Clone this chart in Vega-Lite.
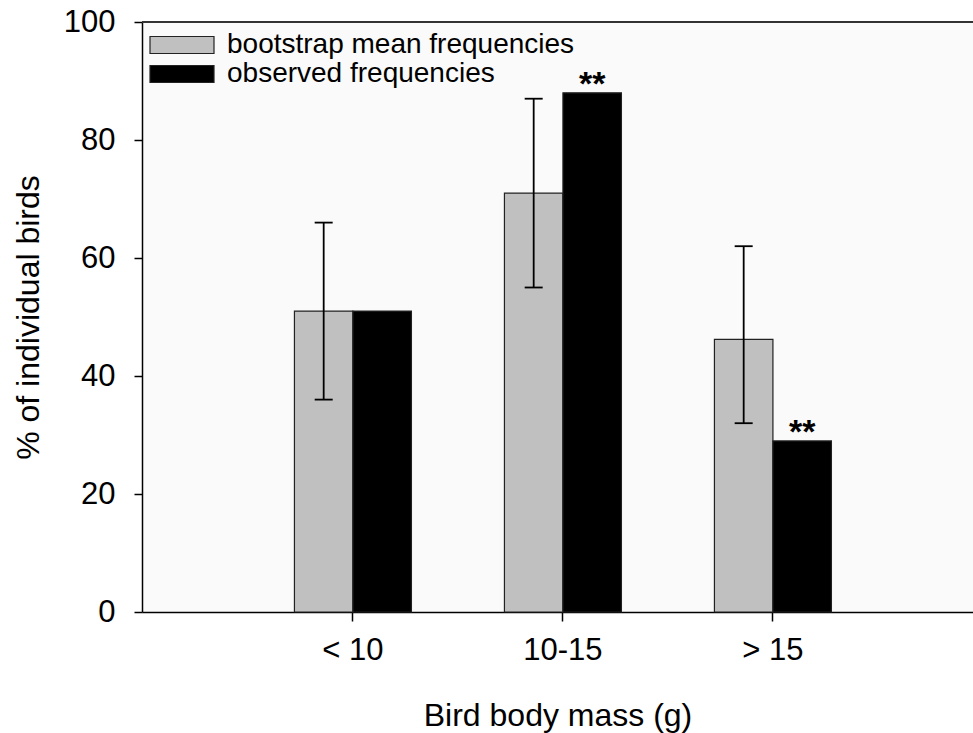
{
  "$schema": "https://vega.github.io/schema/vega-lite/v6.json",
  "width": 831,
  "height": 590,
  "autosize": {"type": "none"},
  "padding": {"left": 142, "top": 22, "right": 0, "bottom": 121},
  "background": "white",
  "config": {
    "view": {"fill": "#fafafa", "stroke": null},
    "font": "Liberation Sans",
    "axis": {"grid": false, "domainColor": "black", "domainWidth": 1.5, "tickColor": "black", "tickWidth": 1.5, "labelColor": "black", "titleColor": "black", "labelFont": "Liberation Sans", "titleFont": "Liberation Sans", "titleFontWeight": "normal"},
    "legend": {"padding": 0}
  },
  "data": {
    "values": [
      {"mass": "< 10", "series": "bootstrap mean frequencies", "value": 51, "lo": 36, "hi": 66, "sig": ""},
      {"mass": "< 10", "series": "observed frequencies", "value": 51, "sig": ""},
      {"mass": "10-15", "series": "bootstrap mean frequencies", "value": 71, "lo": 55, "hi": 87, "sig": ""},
      {"mass": "10-15", "series": "observed frequencies", "value": 88, "sig": "**"},
      {"mass": "> 15", "series": "bootstrap mean frequencies", "value": 46.2, "lo": 32, "hi": 62, "sig": ""},
      {"mass": "> 15", "series": "observed frequencies", "value": 29, "sig": "**"}
    ]
  },
  "layer": [
    {
      "mark": {"type": "bar", "stroke": "#222", "strokeWidth": 1.2},
      "encoding": {
        "x": {"field": "mass", "type": "nominal", "sort": ["< 10", "10-15", "> 15"],
              "scale": {"paddingInner": 0, "paddingOuter": 0.4786, "align": 0.527},
              "axis": {"title": "Bird body mass (g)", "labelAngle": 0, "labelFontSize": 31, "labelPadding": 14, "tickSize": 9, "titleFontSize": 32, "titleY": 103, "titleBaseline": "middle"}},
        "xOffset": {"field": "series", "type": "nominal", "sort": ["bootstrap mean frequencies", "observed frequencies"], "scale": {"paddingInner": 0, "paddingOuter": 0.795}},
        "y": {"field": "value", "type": "quantitative", "scale": {"domain": [0, 100], "nice": false},
              "axis": {"title": "% of individual birds", "values": [0, 20, 40, 60, 80, 100], "tickSize": 8, "labelPadding": 19, "labelFontSize": 31, "titleFontSize": 32, "titleAngle": -90, "titleX": -114, "titleY": 295, "titleBaseline": "middle"}},
        "fill": {"field": "series", "type": "nominal", "sort": ["bootstrap mean frequencies", "observed frequencies"],
                 "scale": {"domain": ["bootstrap mean frequencies", "observed frequencies"], "range": ["#c0c0c0", "#000000"]},
                 "legend": {"title": null, "orient": "none", "legendX": 26, "legendY": 9, "symbolType": "M-6.4,-1.7H6.4V1.7H-6.4Z", "symbolSize": 100, "symbolStrokeColor": "#222", "symbolStrokeWidth": 1.2, "symbolOpacity": 1, "symbolFillOpacity": 1, "labelFontSize": 28, "labelOffset": 31, "labelColor": "black", "labelFont": "Liberation Sans", "rowPadding": 1, "labelLimit": 600}}
      }
    },
    {
      "transform": [{"filter": "datum.lo != null"}],
      "mark": {"type": "rule", "color": "black", "strokeWidth": 1.8},
      "encoding": {
        "x": {"field": "mass", "type": "nominal", "sort": ["< 10", "10-15", "> 15"]},
        "xOffset": {"field": "series", "type": "nominal", "sort": ["bootstrap mean frequencies", "observed frequencies"]},
        "y": {"field": "lo", "type": "quantitative"},
        "y2": {"field": "hi"}
      }
    },
    {
      "transform": [{"filter": "datum.lo != null"}],
      "mark": {"type": "tick", "color": "black", "size": 18, "thickness": 1.8, "opacity": 1},
      "encoding": {
        "x": {"field": "mass", "type": "nominal", "sort": ["< 10", "10-15", "> 15"]},
        "xOffset": {"field": "series", "type": "nominal", "sort": ["bootstrap mean frequencies", "observed frequencies"]},
        "y": {"field": "lo", "type": "quantitative"}
      }
    },
    {
      "transform": [{"filter": "datum.lo != null"}],
      "mark": {"type": "tick", "color": "black", "size": 18, "thickness": 1.8, "opacity": 1},
      "encoding": {
        "x": {"field": "mass", "type": "nominal", "sort": ["< 10", "10-15", "> 15"]},
        "xOffset": {"field": "series", "type": "nominal", "sort": ["bootstrap mean frequencies", "observed frequencies"]},
        "y": {"field": "hi", "type": "quantitative"}
      }
    },
    {
      "transform": [{"filter": "datum.sig != ''"}],
      "mark": {"type": "text", "fontSize": 34, "fontWeight": "bold", "baseline": "alphabetic", "dy": 2, "color": "black", "font": "Liberation Sans"},
      "encoding": {
        "x": {"field": "mass", "type": "nominal", "sort": ["< 10", "10-15", "> 15"]},
        "xOffset": {"field": "series", "type": "nominal", "sort": ["bootstrap mean frequencies", "observed frequencies"]},
        "y": {"field": "value", "type": "quantitative"},
        "text": {"field": "sig"}
      }
    },
    {
      "mark": {"type": "rule", "color": "#333", "strokeWidth": 2},
      "encoding": {"y": {"datum": 100}}
    }
  ]
}
